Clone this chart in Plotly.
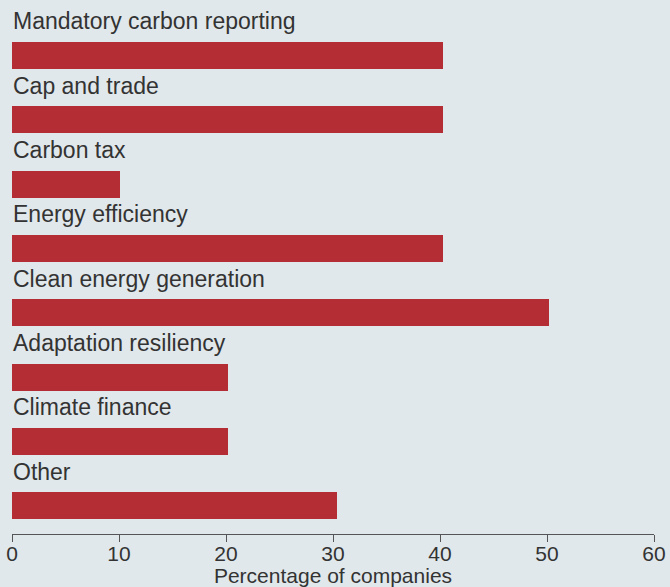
import plotly.graph_objects as go

categories = ["Mandatory carbon reporting", "Cap and trade", "Carbon tax",
              "Energy efficiency", "Clean energy generation",
              "Adaptation resiliency", "Climate finance", "Other"]
values = [40.3, 40.3, 10.1, 40.3, 50.2, 20.2, 20.2, 30.4]
x_ticks = [0, 10, 20, 30, 40, 50, 60]

n = len(categories)
ypos = [n - 1 - i for i in range(n)]

BG = "#e1e8eb"
BAR = "#b52d34"
TXT = "#333333"
FONT = "Liberation Sans, Arial, sans-serif"

fig = go.Figure()
fig.add_trace(go.Bar(
    x=values, y=ypos, orientation="h",
    marker=dict(color=BAR, line=dict(width=0)),
    width=0.42, hoverinfo="skip",
))

for cat, yv in zip(categories, ypos):
    fig.add_annotation(
        x=0, y=yv + 0.53, xref="x", yref="y",
        text=cat, showarrow=False, xanchor="left", yanchor="middle",
        font=dict(family=FONT, size=23, color=TXT),
        xshift=-1,
    )

fig.update_layout(
    width=670, height=587,
    paper_bgcolor=BG, plot_bgcolor=BG,
    margin=dict(l=12, r=16, t=0, b=53, autoexpand=False),
    showlegend=False,
    bargap=0,
)
fig.update_xaxes(
    range=[0, 60], tickvals=x_ticks, ticktext=[str(t) for t in x_ticks],
    showgrid=False, zeroline=False,
    showline=True, linecolor="#555555", linewidth=1,
    ticks="outside", ticklen=7, tickcolor="#555555", tickwidth=1,
    ticklabelstandoff=-6,
    tickfont=dict(family=FONT, size=21, color=TXT),
    title=dict(text="Percentage of companies", standoff=0,
               font=dict(family=FONT, size=21, color=TXT)),
    automargin=False,
    fixedrange=True,
)
fig.update_yaxes(
    range=[-0.4386, 7.862], showgrid=False, zeroline=False,
    showticklabels=False, showline=False, fixedrange=True,
)

fig.write_html(
    "out.html",
    config={"displayModeBar": False},
    post_script="document.body.style.margin='0';document.body.style.background='" + BG + "';",
)
